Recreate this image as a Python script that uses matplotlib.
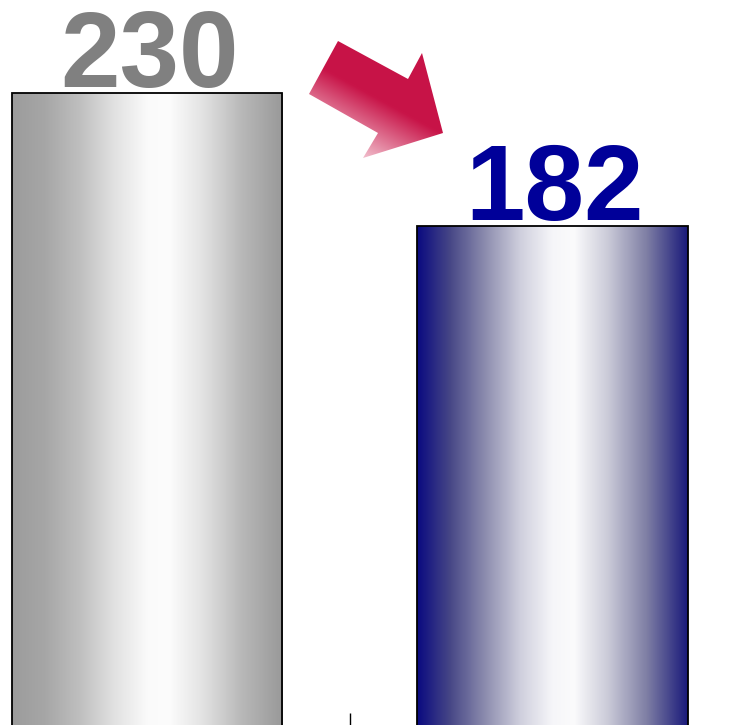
import numpy as np
import matplotlib
matplotlib.use("Agg")
import matplotlib.pyplot as plt
from matplotlib.colors import LinearSegmentedColormap
from matplotlib.patches import Polygon

# Data
categories = ["Before", "After"]
values = [230, 182]
labels = ["230", "182"]
label_colors = ["#808080", "#000099"]

# Gradient stops (position, colour) for the cylinder-like bar fills
gray_stops = [(0.0, "#9c9c9c"), (0.12, "#a6a6a6"), (0.25, "#bfbfbf"),
              (0.38, "#e2e2e2"), (0.5, "#fafafa"), (0.58, "#fcfcfc"),
              (0.7, "#e4e4e4"), (0.85, "#b8b8b8"), (1.0, "#999999")]
blue_stops = [(0.0, "#0a0a80"), (0.12, "#464686"), (0.25, "#8c8cae"),
              (0.38, "#cfcfdd"), (0.5, "#f6f6f9"), (0.58, "#fbfbfc"),
              (0.7, "#cdcdda"), (0.85, "#7e7ea4"), (1.0, "#1a1a7a")]
bar_stops = [gray_stops, blue_stops]

# Figure covering the whole canvas, baseline just below the bottom edge
fig = plt.figure(figsize=(7.5, 7.25), dpi=100)
ax = fig.add_axes([0, 0, 1, 1])
x = np.arange(len(categories))
bar_width = 0.666

bars = ax.bar(x, values, width=bar_width, facecolor="none",
              edgecolor="black", linewidth=1.3, zorder=3)

grad = np.linspace(0, 1, 256).reshape(1, -1)
for rect, stops in zip(bars, bar_stops):
    cmap = LinearSegmentedColormap.from_list("cyl", stops)
    x0, y0 = rect.get_x(), rect.get_y()
    im = ax.imshow(grad, cmap=cmap, aspect="auto", zorder=2,
                   extent=[x0, x0 + rect.get_width(), y0, y0 + rect.get_height()])
    im.set_clip_path(rect)

# Value labels
for xi, v, lab, col in zip(x, values, labels, label_colors):
    ax.text(xi + 0.005, v + 2.2, lab, ha="center", va="baseline", fontsize=77,
            fontweight="bold", color=col, family="Liberation Sans", zorder=4)

# Block arrow between the bars (pixel outline -> axes fraction)
W, H = 750, 725
arrow_px = np.array([[338, 41], [408, 79], [422, 53], [443, 133],
                     [363, 158], [378, 133], [309, 94]], dtype=float)
arrow_ax = np.column_stack([arrow_px[:, 0] / W, 1 - arrow_px[:, 1] / H])
poly = Polygon(arrow_ax, closed=True, transform=ax.transAxes,
               facecolor="none", edgecolor="none")
ax.add_patch(poly)

gx0, gx1 = 300, 450
gy0, gy1 = 35, 165
xx, yy = np.meshgrid(np.arange(gx0, gx1), np.arange(gy0, gy1))
proj = -0.48 * xx + 0.877 * yy
t = np.clip((proj + 95) / 68, 0, 1)
red = np.array([200, 20, 72]) / 255
pale = np.array([248, 218, 226]) / 255
rgb = red[None, None, :] * (1 - t[..., None]) + pale[None, None, :] * t[..., None]
aim = ax.imshow(rgb, extent=[gx0 / W, gx1 / W, 1 - gy1 / H, 1 - gy0 / H],
                transform=ax.transAxes, aspect="auto", zorder=5)
aim.set_clip_path(poly)

# Limits: zero sits slightly below the canvas
ax.set_xlim(-0.3625, 1.487)
ax.set_ylim(1.9, 263.6)
for s in ax.spines.values():
    s.set_visible(False)
ax.set_xticks([0.5])
ax.set_xticklabels([])
ax.set_yticks([])
ax.tick_params(axis="x", direction="in", length=8.6, width=1.0, color="black")

fig.savefig("out.png", dpi=100)
